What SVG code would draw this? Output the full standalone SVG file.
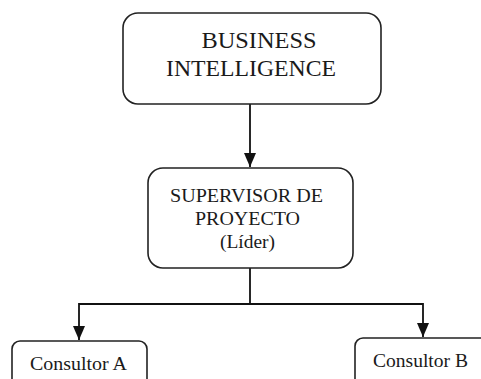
<svg xmlns="http://www.w3.org/2000/svg" width="481" height="379" viewBox="0 0 481 379">
<style>
.box{fill:#fff;stroke:#222;stroke-width:1.6}
.ln{fill:none;stroke:#111;stroke-width:1.8}
.t{font-family:"Liberation Serif","Times New Roman",serif;fill:#1a1a1a;text-anchor:middle}
</style>
<defs>
<marker id="a" viewBox="0 0 14 12" refX="14" refY="6" markerWidth="14" markerHeight="12" orient="auto" markerUnits="userSpaceOnUse">
<path d="M0,0 L14,6 L0,12 Z" fill="#111"/>
</marker>
</defs>
<rect width="481" height="379" fill="#fff"/>
<g id="connectors">
<line class="ln" x1="250" y1="104" x2="250" y2="167" marker-end="url(#a)"/>
<polyline class="ln" points="250,268 250,304"/>
<polyline class="ln" points="250,304 79,304 79,340" marker-end="url(#a)"/>
<polyline class="ln" points="250,304 423,304 423,337" marker-end="url(#a)"/>
</g>
<g id="business-intelligence">
<rect class="box" x="123" y="13" width="258" height="91" rx="15"/>
<text class="t" x="259" y="48" font-size="23" textLength="115" lengthAdjust="spacingAndGlyphs">BUSINESS</text>
<text class="t" x="251" y="76" font-size="23" textLength="170" lengthAdjust="spacingAndGlyphs">INTELLIGENCE</text>
</g>
<g id="supervisor">
<rect class="box" x="148" y="168" width="205" height="100" rx="15"/>
<text class="t" x="246.5" y="202" font-size="18" textLength="153" lengthAdjust="spacingAndGlyphs">SUPERVISOR DE</text>
<text class="t" x="247.5" y="225" font-size="18" textLength="105" lengthAdjust="spacingAndGlyphs">PROYECTO</text>
<text class="t" x="247.5" y="248" font-size="18" textLength="55" lengthAdjust="spacingAndGlyphs">(Líder)</text>
</g>
<g id="consultor-a">
<rect class="box" x="12" y="341" width="135" height="50" rx="8"/>
<text class="t" x="78.5" y="370" font-size="18" textLength="97" lengthAdjust="spacingAndGlyphs">Consultor A</text>
</g>
<g id="consultor-b">
<rect class="box" x="355" y="338" width="140" height="50" rx="8"/>
<text class="t" x="420.5" y="367" font-size="18" textLength="95" lengthAdjust="spacingAndGlyphs">Consultor B</text>
</g>
</svg>
